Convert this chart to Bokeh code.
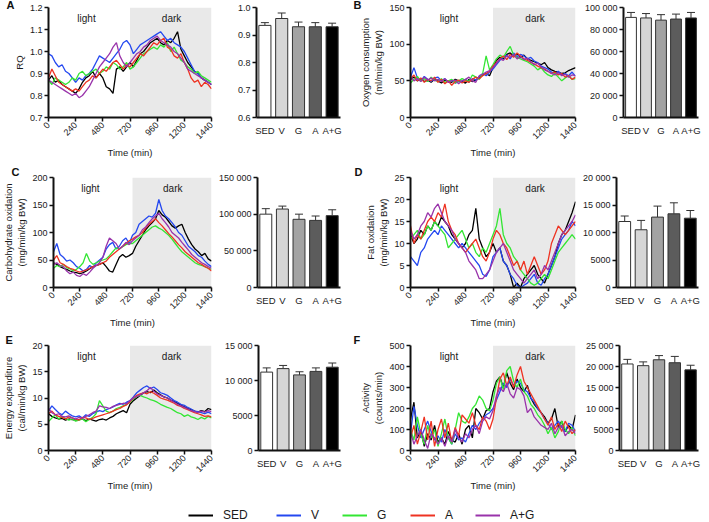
import math
from bokeh.plotting import figure
from bokeh.models import (FixedTicker, BoxAnnotation, Label, ColumnDataSource, Whisker,
                          TeeHead, FactorRange, Range1d, Legend, LegendItem, Title,
                          PrintfTickFormatter)
from bokeh.layouts import column, row
from bokeh.embed import file_html
from bokeh.resources import INLINE

FONT = "Liberation Sans"

# ---------------- data ----------------
TIME = list(range(0, 1441, 30))
X_TICKS = [0, 240, 480, 720, 960, 1200, 1440]
GROUPS = ["SED", "V", "G", "A", "A+G"]
LINE_COLORS = ["#000000", "#2448f0", "#33e633", "#ee3322", "#9933aa"]
BAR_FILLS = ["#ffffff", "#d6d6d6", "#a3a3a3", "#5c5c5c", "#000000"]

# A: RQ
RQ_SED = [0.87, 0.89, 0.86, 0.87, 0.85, 0.84, 0.83, 0.82,
          0.81, 0.83, 0.86, 0.88, 0.89, 0.91, 0.88, 0.90,
          0.88, 0.84, 0.83, 0.81, 0.92, 0.93, 0.91, 0.93,
          0.95, 0.93, 0.96, 0.99, 1.00, 1.02, 1.04, 1.05,
          1.06, 1.04, 1.03, 1.05, 1.04, 1.06, 1.09, 1.01,
          0.98, 0.95, 0.93, 0.91, 0.90, 0.88, 0.87, 0.86, 0.85]
RQ_V = [0.99, 0.98, 0.95, 0.93, 0.94, 0.91, 0.90, 0.88,
        0.86, 0.88, 0.87, 0.89, 0.90, 0.92, 0.95, 0.98,
        0.97, 0.96, 0.95, 0.97, 0.99, 1.01, 1.04, 1.05,
        1.03, 0.99, 1.01, 1.03, 1.04, 1.05, 1.06, 1.07,
        1.08, 1.09, 1.07, 1.05, 1.06, 1.04, 1.03, 1.02,
        1.00, 0.97, 0.94, 0.91, 0.90, 0.88, 0.87, 0.86, 0.85]
RQ_G = [0.87, 0.85, 0.88, 0.87, 0.86, 0.85, 0.86, 0.88,
        0.87, 0.90, 0.91, 0.89, 0.90, 0.91, 0.92, 0.90,
        0.91, 0.93, 0.92, 0.95, 0.94, 0.92, 0.93, 0.95,
        0.92, 0.93, 0.95, 0.97, 0.99, 1.00, 1.01, 1.02,
        1.01, 1.03, 1.02, 1.04, 1.00, 1.02, 0.99, 0.96,
        0.95, 0.93, 0.92, 0.90, 0.91, 0.89, 0.88, 0.87, 0.86]
RQ_A = [0.88, 0.92, 0.89, 0.86, 0.85, 0.84, 0.83, 0.82,
        0.83, 0.82, 0.84, 0.86, 0.87, 0.89, 0.88, 0.90,
        0.92, 0.91, 0.93, 0.95, 0.96, 0.94, 0.92, 0.94,
        0.93, 0.95, 0.97, 0.99, 0.98, 1.00, 1.02, 1.04,
        1.03, 1.05, 1.06, 1.02, 1.01, 0.98, 0.97, 0.99,
        0.95, 0.92, 0.88, 0.86, 0.87, 0.84, 0.86, 0.85, 0.83]
RQ_AG = [0.87, 0.86, 0.85, 0.84, 0.83, 0.82, 0.81, 0.80,
         0.81, 0.79, 0.80, 0.82, 0.84, 0.87, 0.90, 0.93,
         0.95, 0.97, 0.99, 1.02, 1.04, 0.98, 0.95, 0.93,
         0.95, 0.97, 0.99, 1.00, 1.02, 1.03, 1.05, 1.06,
         1.07, 1.05, 1.04, 1.03, 1.02, 1.00, 0.99, 0.97,
         0.95, 0.92, 0.91, 0.90, 0.89, 0.88, 0.87, 0.86, 0.85]
RQ_BAR = [0.935, 0.96, 0.93, 0.93, 0.93]
RQ_ERR = [0.01, 0.02, 0.017, 0.015, 0.013]

# B: oxygen consumption
O2_SED = [52, 55, 50, 53, 49, 51, 48, 52,
          50, 47, 51, 49, 48, 52, 50, 49,
          47, 52, 49, 51, 55, 58, 60, 57,
          68, 78, 82, 80, 86, 88, 84, 87,
          82, 85, 80, 78, 76, 74, 72, 75,
          68, 65, 63, 62, 60, 61, 64, 66, 68]
O2_V = [55, 68, 54, 50, 56, 52, 49, 54,
        55, 50, 53, 48, 51, 47, 49, 50,
        52, 48, 53, 51, 56, 60, 57, 62,
        66, 72, 78, 82, 85, 80, 88, 83,
        86, 84, 80, 82, 77, 75, 70, 68,
        66, 62, 60, 63, 58, 60, 57, 62, 56]
O2_G = [47, 52, 56, 50, 53, 49, 55, 51,
        49, 53, 48, 50, 52, 47, 50, 53,
        51, 49, 58, 55, 52, 60, 84, 65,
        72, 80, 85, 82, 90, 97, 85, 82,
        80, 78, 76, 73, 70, 65, 68, 62,
        58, 56, 60, 55, 50, 54, 57, 52, 53]
O2_A = [53, 58, 50, 54, 48, 52, 50, 55,
        48, 52, 46, 50, 44, 49, 51, 47,
        50, 48, 52, 55, 53, 57, 60, 63,
        70, 75, 80, 84, 79, 86, 82, 88,
        84, 80, 78, 75, 73, 70, 68, 66,
        63, 60, 62, 58, 60, 55, 57, 52, 55]
O2_AG = [56, 50, 53, 49, 55, 51, 54, 50,
         52, 49, 53, 48, 50, 51, 46, 50,
         52, 55, 50, 48, 57, 59, 62, 64,
         68, 74, 80, 78, 84, 82, 86, 80,
         83, 79, 81, 76, 72, 74, 69, 65,
         63, 60, 58, 61, 57, 59, 55, 58, 57]
O2_BAR = [91000, 90500, 88500, 89500, 90500]
O2_ERR = [4500, 4000, 5000, 4500, 5000]

# C: carbohydrate oxidation
CHO_SED = [45, 42, 38, 35, 33, 30, 28, 27,
           25, 27, 30, 34, 38, 40, 42, 45,
           38, 30, 28, 42, 55, 60, 55, 58,
           62, 75, 85, 95, 105, 112, 118, 125,
           140, 132, 128, 120, 112, 108, 112, 115,
           100, 88, 78, 70, 65, 58, 62, 52, 48]
CHO_V = [65, 80, 60, 55, 48, 50, 45, 38,
         35, 30, 33, 40, 36, 45, 50, 55,
         70, 78, 82, 70, 75, 85, 90, 80,
         95, 100, 115, 120, 125, 130, 128, 135,
         160, 140, 130, 125, 118, 110, 100, 95,
         85, 75, 70, 65, 58, 55, 48, 42, 38]
CHO_G = [35, 40, 38, 42, 36, 34, 30, 33,
         38, 45, 62, 48, 42, 45, 48, 50,
         52, 58, 65, 72, 70, 74, 78, 80,
         80, 85, 90, 95, 100, 105, 110, 112,
         108, 105, 100, 95, 88, 80, 72, 65,
         60, 55, 50, 45, 42, 40, 38, 35, 33]
CHO_A = [50, 58, 45, 42, 38, 35, 33, 30,
         28, 30, 32, 35, 38, 40, 42, 45,
         48, 55, 60, 65, 70, 75, 80, 85,
         88, 92, 95, 100, 108, 115, 120, 125,
         118, 112, 105, 98, 92, 85, 78, 72,
         65, 60, 55, 50, 45, 42, 38, 35, 30]
CHO_AG = [42, 45, 40, 38, 30, 25, 28, 22,
          20, 25, 22, 28, 35, 40, 45, 55,
          75, 90, 85, 80, 70, 75, 82, 78,
          85, 90, 95, 105, 110, 118, 125, 130,
          135, 125, 118, 110, 100, 95, 90, 82,
          75, 68, 60, 55, 50, 45, 42, 38, 35]
CHO_BAR = [100000, 107000, 93000, 91500, 98000]
CHO_ERR = [7500, 4000, 7000, 6000, 8000]

# D: fat oxidation
FAT_SED = [12, 10, 11, 13, 12, 14, 13, 15,
           14, 16, 15, 14, 12, 11, 10, 9,
           10, 12, 13, 18, 11, 9, 7, 8,
           10, 8, 9, 6, 5, 3, 0, 1,
           0, 2, 3, 4, 5, 3, 2, 1,
           3, 5, 7, 10, 12, 13, 15, 17, 19.5]
FAT_V = [7, 6, 5, 8, 9, 11, 12, 13,
         12, 14, 13, 12, 11, 10, 9, 10,
         9, 8, 7, 6, 5, 3, 2.5, 4,
         7, 8, 9, 6, 5, 3, 2, 0.5,
         0, 0.5, 1, 2, 3, 1, 0.5, 2,
         3, 5, 7, 9, 11, 12, 13, 15, 14]
FAT_G = [11, 12, 13, 11, 12, 14, 13, 15,
         14, 13, 12, 9, 10, 11, 12, 13,
         11, 9, 10, 8, 7, 9, 8, 10,
         12, 14, 18, 12, 10, 9, 7, 6,
         4, 3, 2, 1, 0.5, 1, 2, 3,
         2, 4, 6, 8, 9, 10, 11, 12, 11]
FAT_A = [14, 10, 12, 11, 13, 15, 16, 15,
         17, 16, 19, 15, 13, 12, 10, 9,
         8, 9, 10, 11, 9, 7, 6, 8,
         11, 13, 12, 10, 9, 7, 5, 6,
         4, 6, 3, 5, 7, 5, 3, 4,
         6, 10, 12, 14, 13, 12, 13, 14, 15]
FAT_AG = [13, 11, 12, 14, 15, 17, 16, 18,
          19, 17, 15, 14, 13, 11, 10, 9,
          8, 6, 5, 4, 2, 2, 3, 4,
          6, 8, 9, 10, 8, 6, 4, 3,
          2, 1, 2, 3, 4, 2, 3, 5,
          4, 6, 8, 10, 12, 13, 14, 15, 16.5]
FAT_BAR = [12000, 10500, 12800, 13400, 12600]
FAT_ERR = [1000, 1700, 2000, 2000, 1400]

# E: energy expenditure
EE_SED = [7, 6.5, 6.2, 6, 6.1, 5.8, 6, 5.9,
          5.8, 5.9, 6, 5.7, 6, 5.8, 5.6, 5.9,
          6, 5.8, 6.2, 6.5, 7, 7.3, 7.6, 7.2,
          8.8, 9.5, 10, 10.5, 11, 11.2, 11, 11.5,
          11, 10.6, 10.2, 10, 9.6, 9.3, 9, 8.6,
          8.3, 8, 7.8, 7.5, 7.3, 7.6, 7.4, 8, 7.8]
EE_V = [7.5, 8.5, 7.8, 7.2, 6.8, 7.5, 7, 6.6,
        6.4, 6.6, 6.2, 6.8, 6.5, 7, 7.3, 7.6,
        7.4, 7.8, 8, 8.3, 8.7, 9, 8.8, 9.2,
        9.5, 10.2, 11, 11.5, 12, 12.3, 11.8, 12.1,
        11.6, 11, 10.8, 10.5, 10, 9.5, 9.2, 8.8,
        8.6, 8.2, 7.9, 7.5, 7.4, 7.2, 7, 7.3, 7]
EE_G = [5.5, 6.2, 6.8, 6, 6.5, 6.1, 5.8, 6,
        5.6, 5.8, 6, 5.5, 5.9, 6.3, 7, 9.5,
        8.5, 7.5, 7.2, 7.5, 8, 8.2, 8.5, 8.8,
        9.2, 9.8, 10.3, 10.5, 10.2, 10, 9.7, 9.5,
        9.2, 8.8, 8.5, 8.2, 8, 7.6, 7.2, 7,
        6.5, 6.8, 6.4, 6.2, 5.9, 6.3, 6, 6.5, 6.2]
EE_A = [7, 7.5, 6.8, 6.5, 6.3, 6, 6.4, 6.2,
        6, 5.8, 6.3, 6.2, 5.9, 6.1, 6.4, 6.6,
        6.8, 7, 7.2, 7.5, 7.8, 8, 8.4, 8.7,
        9.3, 10, 10.5, 10.8, 11, 10.8, 11.2, 10.9,
        10.5, 10, 9.8, 9.6, 9.3, 9, 8.6, 8.4,
        8, 7.8, 7.5, 7.2, 7, 6.8, 6.5, 6.6, 6.4]
EE_AG = [8, 7.2, 6.8, 7, 6.5, 6.4, 6.6, 6.2,
         6, 6.3, 6.1, 6.5, 6.8, 7.2, 7.5, 8.5,
         8.3, 8.2, 8, 8.4, 8.6, 8.8, 9, 8.9,
         9.5, 10, 10.3, 10.6, 11, 11.4, 12, 11.3,
         10.8, 10.5, 10.2, 10, 9.6, 9.2, 8.8, 8.5,
         8.2, 7.9, 7.6, 7.4, 7.2, 7.5, 7.3, 7.6, 7.4]
EE_BAR = [11200, 11700, 10800, 11300, 11900]
EE_ERR = [600, 450, 450, 500, 600]

# F: activity
ACT_SED = [150, 230, 60, 100, 20, 80, 50, 120,
           40, 60, 30, 90, 50, 40, 80, 30,
           100, 120, 60, 200, 180, 150, 190, 200,
           280, 330, 350, 300, 370, 320, 290, 340,
           300, 280, 310, 250, 220, 200, 180, 160,
           130, 150, 200, 110, 140, 90, 120, 100, 170]
ACT_V = [80, 210, 120, 60, 100, 140, 90, 50,
         70, 40, 100, 60, 30, 80, 50, 60,
         40, 80, 120, 100, 130, 150, 170, 180,
         200, 240, 280, 320, 300, 340, 310, 330,
         320, 290, 280, 250, 230, 200, 180, 150,
         130, 100, 120, 140, 110, 90, 130, 120, 90]
ACT_G = [100, 50, 160, 80, 30, 120, 60, 100,
         20, 80, 150, 60, 30, 100, 180, 140,
         130, 160, 200, 220, 260, 240, 200, 190,
         240, 320, 350, 290, 380, 400, 330, 300,
         340, 280, 260, 220, 200, 170, 150, 120,
         80, 110, 60, 90, 140, 100, 80, 110, 70]
ACT_A = [60, 120, 30, 90, 160, 50, 140, 20,
         100, 150, 60, 130, 40, 110, 70, 170,
         150, 130, 180, 120, 100, 160, 140, 100,
         150, 250, 340, 370, 310, 350, 300, 360,
         400, 330, 300, 270, 240, 210, 180, 150,
         120, 160, 100, 130, 90, 140, 110, 80, 100]
ACT_AG = [90, 30, 70, 100, 50, 10, 80, 60,
          30, 60, 20, 70, 40, 100, 60, 40,
          80, 60, 100, 120, 80, 140, 160, 150,
          190, 260, 300, 280, 320, 270, 250, 300,
          290, 260, 180, 200, 160, 140, 120, 110,
          100, 130, 80, 110, 120, 70, 90, 100, 80]
ACT_BAR = [20600, 20200, 21600, 20900, 19200]
ACT_ERR = [1100, 900, 1000, 1500, 1100]

# axis ticks / labels
RQ_TICKS = [0.7, 0.8, 0.9, 1.0, 1.1, 1.2]
RQ_BAR_TICKS = [0.6, 0.7, 0.8, 0.9, 1.0]
O2_TICKS = [0, 50, 100, 150]
O2_BAR_TICKS = [0, 20000, 40000, 60000, 80000, 100000]
O2_BAR_LABELS = ["0", "20 000", "40 000", "60 000", "80 000", "100 000"]
CHO_TICKS = [0, 50, 100, 150, 200]
CHO_BAR_TICKS = [0, 50000, 100000, 150000]
CHO_BAR_LABELS = ["0", "50 000", "100 000", "150 000"]
FAT_TICKS = [0, 5, 10, 15, 20, 25]
FAT_BAR_TICKS = [0, 5000, 10000, 15000, 20000]
FAT_BAR_LABELS = ["0", "5000", "10 000", "15 000", "20 000"]
EE_TICKS = [0, 5, 10, 15, 20]
EE_BAR_TICKS = [0, 5000, 10000, 15000]
EE_BAR_LABELS = ["0", "5000", "10 000", "15 000"]
ACT_TICKS = [0, 100, 200, 300, 400, 500]
ACT_BAR_TICKS = [0, 5000, 10000, 15000, 20000, 25000]
ACT_BAR_LABELS = ["0", "5000", "10 000", "15 000", "20 000", "25 000"]


def style_axis(ax, label_size="9px"):
    ax.axis_line_width = 2
    ax.axis_line_color = "#111111"
    ax.major_tick_line_width = 1.5
    ax.major_tick_line_color = "#111111"
    ax.major_tick_out = 4
    ax.major_tick_in = 0
    ax.minor_tick_line_color = None
    ax.major_label_text_font = FONT
    ax.major_label_text_font_size = label_size
    ax.major_label_text_color = "#1a1a1a"
    ax.major_label_standoff = 2
    ax.axis_label_text_font = FONT
    ax.axis_label_text_font_size = "9.5px"
    ax.axis_label_text_font_style = "normal"
    ax.axis_label_text_color = "#1a1a1a"
    ax.axis_label_standoff = 2


def add_letter(p, letter, offset, standoff):
    p.add_layout(Title(text=letter, align="left", offset=offset, standoff=standoff,
                       text_font=FONT, text_font_size="11px", text_font_style="bold",
                       text_color="#111111"), "above")


def line_fig(series, y0, y1, yticks, ylabel, width, height, bl, br, bt, bb, fmt=None):
    p = figure(width=width, height=height, x_range=Range1d(0, 1440), y_range=Range1d(y0, y1),
               output_backend="svg", toolbar_location=None,
               min_border_left=bl, min_border_right=br, min_border_top=bt,
               min_border_bottom=bb)
    p.outline_line_color = None
    p.grid.visible = False
    p.background_fill_color = None
    p.border_fill_color = None
    p.add_layout(BoxAnnotation(left=720, right=1440, fill_color="#e9e9e9", fill_alpha=1,
                               line_color=None, level="underlay"))
    for vals, col in zip(series, LINE_COLORS):
        p.line(TIME, vals, line_color=col, line_width=1.3)
    style_axis(p.xaxis[0])
    style_axis(p.yaxis[0])
    p.xaxis[0].ticker = FixedTicker(ticks=X_TICKS)
    p.xaxis[0].major_label_orientation = math.pi / 4
    p.xaxis[0].axis_label = "Time (min)"
    p.yaxis[0].ticker = FixedTicker(ticks=yticks)
    p.yaxis[0].axis_label = ylabel
    if fmt is not None:
        p.yaxis[0].formatter = fmt
    span = y1 - y0
    for txt, xpos in (("light", 336), ("dark", 1087)):
        p.add_layout(Label(x=xpos, y=y0 + 0.9 * span, text=txt, text_align="center",
                           text_baseline="middle", text_font=FONT, text_font_size="10px",
                           text_color="#1a1a1a"))
    return p


def bar_fig(vals, errs, y0, y1, yticks, labels, width, height, bl, br, bt, bb, fmt=None):
    ups = [v + e for v, e in zip(vals, errs)]
    src = ColumnDataSource(dict(g=GROUPS, v=vals, up=ups, fill=BAR_FILLS))
    p = figure(width=width, height=height, x_range=FactorRange(*GROUPS), y_range=Range1d(y0, y1),
               output_backend="svg", toolbar_location=None,
               min_border_left=bl, min_border_right=br, min_border_top=bt,
               min_border_bottom=bb)
    p.outline_line_color = None
    p.grid.visible = False
    p.background_fill_color = None
    p.border_fill_color = None
    p.vbar(x="g", top="v", bottom=y0, width=0.72, fill_color="fill", line_color="#333333",
           line_width=1, source=src)
    p.add_layout(Whisker(source=src, base="g", upper="up", lower="v", line_color="#333333",
                         line_width=1, lower_head=None,
                         upper_head=TeeHead(size=8, line_color="#333333", line_width=1)))
    style_axis(p.xaxis[0], label_size="9.5px")
    style_axis(p.yaxis[0])
    p.xaxis[0].major_tick_line_color = None
    p.xaxis[0].major_label_standoff = 3
    p.yaxis[0].ticker = FixedTicker(ticks=yticks)
    if fmt is not None:
        p.yaxis[0].formatter = fmt
    if labels is not None:
        p.yaxis[0].major_label_overrides = {t: s for t, s in zip(yticks, labels)}
    return p


# rows: (height, border_top, border_bottom)
R1 = (162, 7, 45)
R2 = (168, 15, 43)
R3 = (163, 15, 38)

fmt1 = PrintfTickFormatter(format="%.1f")
fA = line_fig([RQ_SED, RQ_V, RQ_G, RQ_A, RQ_AG], 0.7, 1.2, RQ_TICKS, "RQ",
              215, R1[0], 48, 4, R1[1], R1[2], fmt=fmt1)
add_letter(fA, "A", -42, -7)
bA = bar_fig(RQ_BAR, RQ_ERR, 0.6, 1.0, RQ_BAR_TICKS, None, 129, R1[0], 41, 4, R1[1], R1[2],
             fmt=PrintfTickFormatter(format="%.1f"))
fB = line_fig([O2_SED, O2_V, O2_G, O2_A, O2_AG], 0, 150, O2_TICKS,
              "Oxygen consumption\n(ml/min/kg BW)", 235, R1[0], 66, 4, R1[1], R1[2])
add_letter(fB, "B", -57, -7)
bB = bar_fig(O2_BAR, O2_ERR, 0, 100000, O2_BAR_TICKS, O2_BAR_LABELS, 130, R1[0], 44, 11,
             R1[1], R1[2])

fC = line_fig([CHO_SED, CHO_V, CHO_G, CHO_A, CHO_AG], 0, 200, CHO_TICKS,
              "Carbohydrate oxidation\n(mg/min/kg BW)", 215, R2[0], 48, 4, R2[1], R2[2])
add_letter(fC, "C", -42, 0)
bC = bar_fig(CHO_BAR, CHO_ERR, 0, 150000, CHO_BAR_TICKS, CHO_BAR_LABELS, 129, R2[0], 41, 4,
             R2[1], R2[2])
fD = line_fig([FAT_SED, FAT_V, FAT_G, FAT_A, FAT_AG], 0, 25, FAT_TICKS,
              "Fat oxidation\n(mg/min/kg BW)", 235, R2[0], 66, 4, R2[1], R2[2])
add_letter(fD, "D", -56, 0)
bD = bar_fig(FAT_BAR, FAT_ERR, 0, 20000, FAT_BAR_TICKS, FAT_BAR_LABELS, 130, R2[0], 36, 11,
             R2[1], R2[2])

fE = line_fig([EE_SED, EE_V, EE_G, EE_A, EE_AG], 0, 20, EE_TICKS,
              "Energy expenditure\n(cal/min/kg BW)", 215, R3[0], 48, 4, R3[1], R3[2])
add_letter(fE, "E", -43, 0)
bE = bar_fig(EE_BAR, EE_ERR, 0, 15000, EE_BAR_TICKS, EE_BAR_LABELS, 129, R3[0], 43, 4,
             R3[1], R3[2])
fF = line_fig([ACT_SED, ACT_V, ACT_G, ACT_A, ACT_AG], 0, 500, ACT_TICKS,
              "Activity\n(counts/min)", 235, R3[0], 66, 4, R3[1], R3[2])
add_letter(fF, "F", -57, 0)
bF = bar_fig(ACT_BAR, ACT_ERR, 0, 25000, ACT_BAR_TICKS, ACT_BAR_LABELS, 130, R3[0], 40, 11,
             R3[1], R3[2])

# legend strip
LEGEND_X = [188, 276, 342, 410, 475]
lg = figure(width=709, height=522 - R1[0] - R2[0] - R3[0], output_backend="svg",
            toolbar_location=None, x_axis_location=None, y_axis_location=None, min_border=0,
            x_range=Range1d(0, 1), y_range=Range1d(0, 1))
lg.outline_line_color = None
lg.grid.visible = False
for name, col, lx in zip(GROUPS, LINE_COLORS, LEGEND_X):
    r = lg.line(x=[float("nan")], y=[float("nan")], line_color=col, line_width=2)
    lg.add_layout(Legend(items=[LegendItem(label=name, renderers=[r])], location=(lx, 0),
                         glyph_width=25, glyph_height=12, label_height=12, label_standoff=10,
                         padding=0, margin=0, border_line_color=None,
                         background_fill_alpha=0, label_text_font=FONT,
                         label_text_font_size="12px", label_text_color="#1a1a1a"), "center")

layout = column(row(fA, bA, fB, bB), row(fC, bC, fD, bD), row(fE, bE, fF, bF), lg)

open("out.html", "w").write(file_html(layout, INLINE))
